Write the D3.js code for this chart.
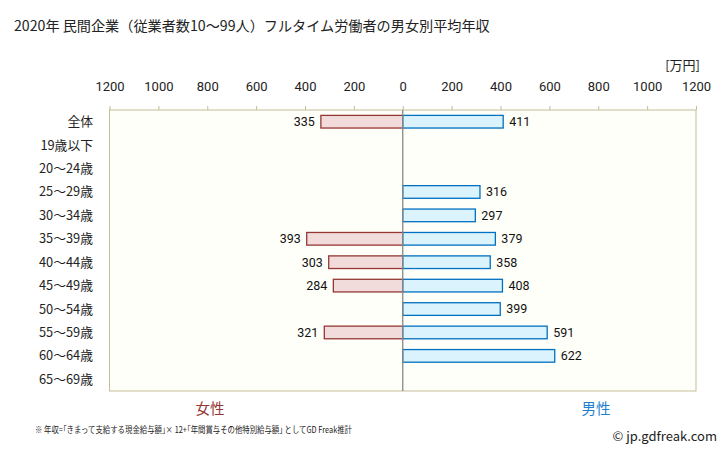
<!DOCTYPE html>
<html><head><meta charset="utf-8">
<script src="https://cdn.jsdelivr.net/npm/d3@7"></script>
<style>body{margin:0;background:#fff;}svg{display:block;font-family:"Noto Sans CJK JP","Noto Sans",sans-serif;}</style>
</head><body>
<svg id="c" width="728" height="451"></svg>
<script>
const categories = ["全体","19歳以下","20〜24歳","25〜29歳","30〜34歳","35〜39歳","40〜44歳","45〜49歳","50〜54歳","55〜59歳","60〜64歳","65〜69歳"];
const female = [335,null,null,null,null,393,303,284,null,321,null,null];
const male = [411,null,null,316,297,379,358,408,399,591,622,null];
const tickValues = [-1200,-1000,-800,-600,-400,-200,0,200,400,600,800,1000,1200];

const svg = d3.select("#c");
const L = 109.5, R = 696, T = 110, B = 391;
const x = d3.scaleLinear().domain([-1200,1200]).range([L,R]);
const y = d3.scaleBand().domain(categories).range([T,B]).paddingInner(0.46).paddingOuter(0.23);

svg.append("text").attr("x",14).attr("y",31).attr("font-size",14.15).attr("fill","#222")
  .text("2020年 民間企業（従業者数10〜99人）フルタイム労働者の男女別平均年収");

svg.append("rect").attr("x",L).attr("y",T).attr("width",R-L).attr("height",B-T)
  .attr("fill","#fffff9").attr("stroke","#c4bd97").attr("stroke-width",1);

const ax = d3.axisTop(x).tickValues(tickValues).tickSize(4).tickFormat(d=>Math.abs(d));
const g = svg.append("g").attr("transform",`translate(0,${T})`).call(ax);
g.select(".domain").remove();
g.selectAll(".tick line").attr("stroke","#c4bd97");
g.selectAll(".tick text").attr("font-size",13).attr("fill","#222").attr("dy",-12)
  .style("font-family","Roboto,'Noto Sans',sans-serif");

svg.append("text").attr("x",700).attr("y",70).attr("text-anchor","end").attr("font-size",13).attr("fill","#222").text("[万円]");

const bh = y.bandwidth();
const rows = categories.map((c,i)=>({c,f:female[i],m:male[i]}));

svg.selectAll(".fb").data(rows.filter(d=>d.f!=null)).enter().append("rect")
  .attr("x",d=>x(-d.f)).attr("y",d=>y(d.c)).attr("width",d=>x(0)-x(-d.f)).attr("height",bh)
  .attr("fill","#f2dcdb").attr("stroke","#953735").attr("stroke-width",1.3);
svg.selectAll(".mb").data(rows.filter(d=>d.m!=null)).enter().append("rect")
  .attr("x",x(0)).attr("y",d=>y(d.c)).attr("width",d=>x(d.m)-x(0)).attr("height",bh)
  .attr("fill","#dbf3fd").attr("stroke","#0070c0").attr("stroke-width",1.3);

svg.append("line").attr("x1",x(0)).attr("x2",x(0)).attr("y1",T).attr("y2",B).attr("stroke","#888").attr("stroke-width",1.3);

svg.selectAll(".fl").data(rows.filter(d=>d.f!=null)).enter().append("text")
  .attr("x",d=>x(-d.f)-6).attr("y",d=>y(d.c)+bh/2).attr("dy","0.35em").attr("text-anchor","end")
  .attr("font-size",12.5).attr("fill","#111").style("font-family","Roboto,'Noto Sans',sans-serif").text(d=>d.f);
svg.selectAll(".ml").data(rows.filter(d=>d.m!=null)).enter().append("text")
  .attr("x",d=>x(d.m)+6).attr("y",d=>y(d.c)+bh/2).attr("dy","0.35em").attr("text-anchor","start")
  .attr("font-size",12.5).attr("fill","#111").style("font-family","Roboto,'Noto Sans',sans-serif").text(d=>d.m);

svg.selectAll(".cl").data(categories).enter().append("text")
  .attr("x",93).attr("y",d=>y(d)+bh/2).attr("dy","0.35em").attr("text-anchor","end")
  .attr("font-size",12.8).attr("fill","#222").text(d=>d);

svg.append("text").attr("x",210).attr("y",414).attr("text-anchor","middle").attr("font-size",14.5).attr("fill","#953735").text("女性");
svg.append("text").attr("x",596).attr("y",414).attr("text-anchor","middle").attr("font-size",14.5).attr("fill","#1f7fcf").text("男性");

svg.append("text").attr("x",35).attr("y",433).attr("font-size",8.6).attr("fill","#222")
  .attr("textLength",317).attr("lengthAdjust","spacingAndGlyphs")
  .text("※ 年収=｢きまって支給する現金給与額｣× 12+｢年間賞与その他特別給与額｣ としてGD Freak推計");
svg.append("text").attr("x",717).attr("y",441).attr("text-anchor","end").attr("font-size",13).attr("fill","#222").text("© jp.gdfreak.com");
</script>
</body></html>
